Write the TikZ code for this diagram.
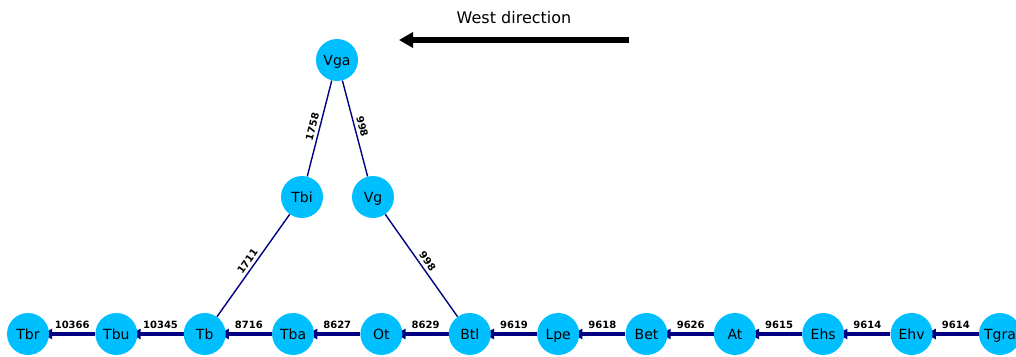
\documentclass[tikz,border=0pt]{standalone}
\usepackage{fontspec}
\setmainfont{DejaVu Sans}
\usetikzlibrary{arrows.meta}
\pgfdeclarelayer{edges}
\pgfsetlayers{edges,main}
\definecolor{stationblue}{HTML}{00BFFF}
\definecolor{trackblue}{HTML}{000080}
\begin{document}
\begin{tikzpicture}[x=1pt,y=-1pt,
  station/.style={circle, fill=stationblue, minimum size=42pt, inner sep=0pt,
    text height=10.2pt, text depth=0pt, font=\fontsize{14}{14}\selectfont},
  mainline/.style={draw=trackblue, line width=4pt},
  branch/.style={draw=trackblue, line width=1.4pt},
  westtip/.style={{Triangle[length=10pt,width=10pt]}-, shorten <=-7pt},
  dist/.style={midway, sloped, above, inner sep=3pt,
    font=\bfseries\fontsize{10}{10}\selectfont}
]
\useasboundingbox (0,0) rectangle (1016,356);

% heading and direction arrow
\node[font=\fontsize{16}{16}\selectfont] (title) at (514,18) {West direction};
\coordinate (arrowtail) at (629,40);
\coordinate (arrowhead) at (399,40);
\draw[line width=6pt, -{Triangle[length=14pt,width=15pt]}] (arrowtail) -- (arrowhead);

% stations on the main line
\node[station] (Tbr)  at (28,334)    {Tbr};
\node[station] (Tbu)  at (116.4,334) {Tbu};
\node[station] (Tb)   at (204.7,334) {Tb};
\node[station] (Tba)  at (293.1,334) {Tba};
\node[station] (Ot)   at (381.4,334) {Ot};
\node[station] (Btl)  at (469.8,334) {Btl};
\node[station] (Lpe)  at (558.2,334) {Lpe};
\node[station] (Bet)  at (646.5,334) {Bet};
\node[station] (At)   at (734.9,334) {At};
\node[station] (Ehs)  at (823.2,334) {Ehs};
\node[station] (Ehv)  at (911.6,334) {Ehv};
\node[station] (Tgra) at (1000,334)  {Tgra};

% branch stations
\node[station] (Vga) at (337,60)  {Vga};
\node[station] (Tbi) at (302,197) {Tbi};
\node[station] (Vg)  at (373,197) {Vg};

\begin{pgfonlayer}{edges}
  \draw[mainline, westtip] (Tbr) -- node[dist]{10366} (Tbu);
  \draw[mainline, westtip] (Tbu) -- node[dist]{10345} (Tb);
  \draw[mainline, westtip] (Tb)  -- node[dist]{8716}  (Tba);
  \draw[mainline, westtip] (Tba) -- node[dist]{8627}  (Ot);
  \draw[mainline, westtip] (Ot)  -- node[dist]{8629}  (Btl);
  \draw[mainline, westtip] (Btl) -- node[dist]{9619}  (Lpe);
  \draw[mainline, westtip] (Lpe) -- node[dist]{9618}  (Bet);
  \draw[mainline, westtip] (Bet) -- node[dist]{9626}  (At);
  \draw[mainline, westtip] (At)  -- node[dist]{9615}  (Ehs);
  \draw[mainline, westtip] (Ehs) -- node[dist]{9614}  (Ehv);
  \draw[mainline, westtip] (Ehv) -- node[dist]{9614}  (Tgra);

  \draw[branch] (Tbi) -- node[dist]{1758} (Vga);
  \draw[branch] (Vga) -- node[dist]{998}  (Vg);
  \draw[branch] (Tb)  -- node[dist]{1711} (Tbi);
  \draw[branch] (Vg)  -- node[dist]{998}  (Btl);
\end{pgfonlayer}
\end{tikzpicture}
\end{document}
